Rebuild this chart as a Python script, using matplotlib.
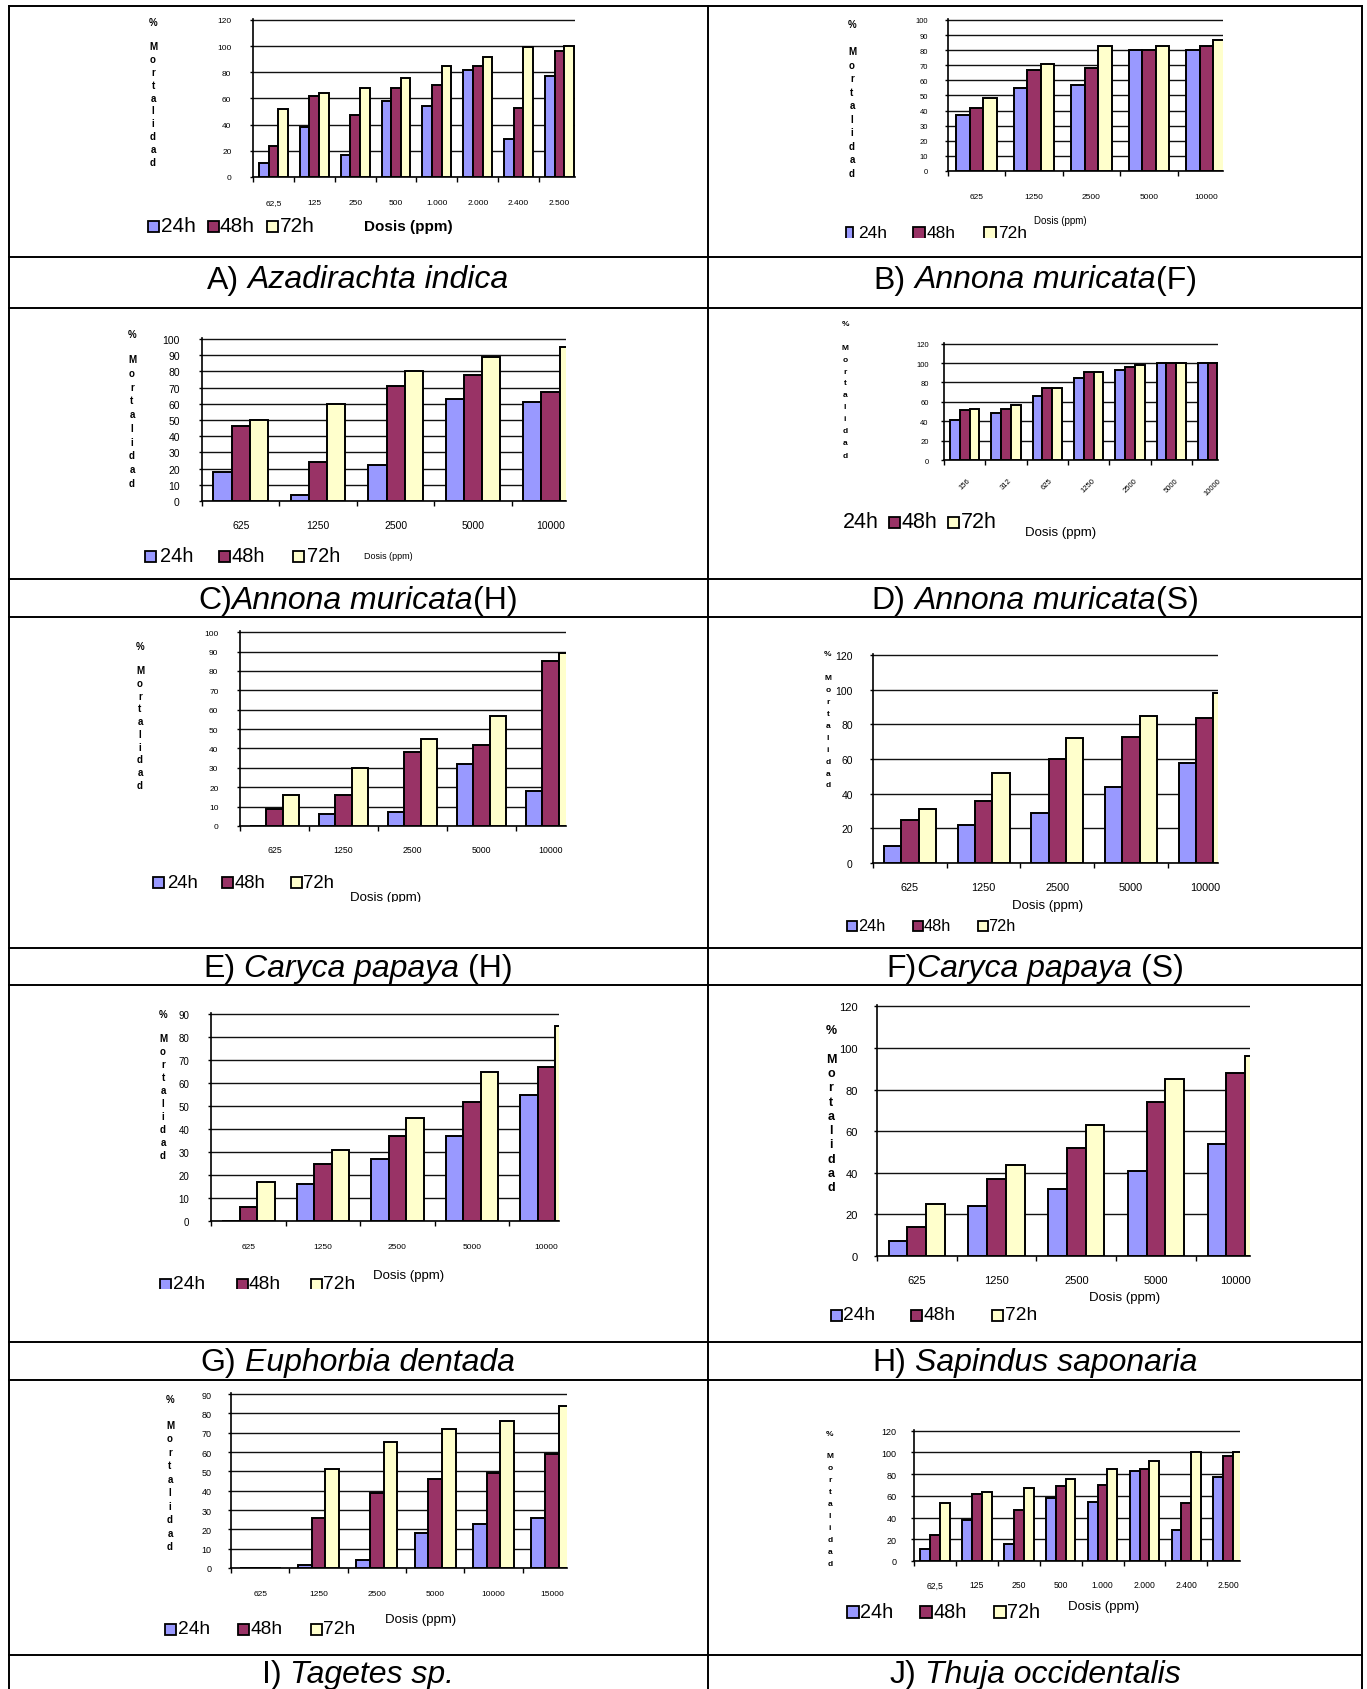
import numpy as np
import matplotlib
matplotlib.use("Agg")
import matplotlib.pyplot as plt
from matplotlib.patches import Rectangle
from matplotlib.lines import Line2D
from matplotlib.transforms import Bbox, TransformedBbox
from matplotlib.offsetbox import TextArea, HPacker, AnnotationBbox, DrawingArea

plt.rcParams['font.family'] = ['Liberation Sans', 'DejaVu Sans']

W, H = 1367, 1690

SERIES = ['24h', '48h', '72h']
COLORS = ['#9999FF', '#993366', '#FFFFCC']

# ---- mortality (%) per dose, for 24 h, 48 h and 72 h exposure ----
a_doses = ['62,5', '125', '250', '500', '1.000', '2.000', '2.400', '2.500']
a_24 = [11, 38, 17, 58, 54, 82, 29, 77]
a_48 = [24, 62, 47, 68, 70, 85, 53, 96]
a_72 = [52, 64, 68, 76, 85, 92, 99, 100]

b_doses = ['625', '1250', '2500', '5000', '10000']
b_24 = [37, 55, 57, 80, 80]
b_48 = [42, 67, 68, 80, 83]
b_72 = [48, 71, 83, 83, 87]

c_doses = ['625', '1250', '2500', '5000', '10000']
c_24 = [18, 4, 22, 63, 61]
c_48 = [46, 24, 71, 78, 67]
c_72 = [50, 60, 80, 89, 95]

d_doses = ['156', '312', '625', '1250', '2500', '5000', '10000']
d_24 = [41, 49, 66, 85, 93, 100, 100]
d_48 = [52, 53, 74, 91, 96, 100, 100]
d_72 = [53, 57, 74, 91, 98, 100, 100]

e_doses = ['625', '1250', '2500', '5000', '10000']
e_24 = [0, 6, 7, 32, 18]
e_48 = [9, 16, 38, 42, 85]
e_72 = [16, 30, 45, 57, 89]

f_doses = ['625', '1250', '2500', '5000', '10000']
f_24 = [10, 22, 29, 44, 58]
f_48 = [25, 36, 60, 73, 84]
f_72 = [31, 52, 72, 85, 98]

g_doses = ['625', '1250', '2500', '5000', '10000']
g_24 = [0, 16, 27, 37, 55]
g_48 = [6, 25, 37, 52, 67]
g_72 = [17, 31, 45, 65, 85]

h_doses = ['625', '1250', '2500', '5000', '10000']
h_24 = [7, 24, 32, 41, 54]
h_48 = [14, 37, 52, 74, 88]
h_72 = [25, 44, 63, 85, 96]

i_doses = ['625', '1250', '2500', '5000', '10000', '15000']
i_24 = [0, 1.5, 4, 18, 23, 26]
i_48 = [0, 26, 39, 46, 49, 59]
i_72 = [0, 51, 65, 72, 76, 84]

j_doses = ['62,5', '125', '250', '500', '1.000', '2.000', '2.400', '2.500']
j_24 = [11, 38, 16, 58, 54, 83, 29, 77]
j_48 = [24, 62, 47, 69, 70, 85, 53, 97]
j_72 = [53, 64, 67, 76, 85, 92, 100, 100]

# caption pieces: (text, italic); None marks a word space
captions = [
    [("A)", False), (" ", None), ("Azadirachta indica", True)],
    [("B)", False), (" ", None), ("Annona muricata", True), ("(F)", False)],
    [("C)", False), ("Annona muricata", True), ("(H)", False)],
    [("D)", False), (" ", None), ("Annona muricata", True), ("(S)", False)],
    [("E)", False), (" ", None), ("Caryca papaya", True), (" ", None), ("(H)", False)],
    [("F)", False), ("Caryca papaya", True), (" ", None), ("(S)", False)],
    [("G)", False), (" ", None), ("Euphorbia dentada", True)],
    [("H)", False), (" ", None), ("Sapindus saponaria", True)],
    [("I)", False), (" ", None), ("Tagetes sp.", True)],
    [("J)", False), (" ", None), ("Thuja occidentalis", True)],
]

# ---- panel geometry (pixels) ----
panels = [
    dict(doses=a_doses, vals=(a_24, a_48, a_72), box=(253, 575, 20, 178), ymax=120, ystep=20,
         xmax=7.38, yfs=6, xfs=6, ypad=13, xpad=16, rot=0,
         pct=(153, 23), mort=(47, 163), mfs=7,
         leg_y=227, leg_fs=15, leg=[(148, 11, 161), (207.7, 11, 220), (267.3, 11, 280)],
         dosis=(408, 227, 11, 'bold'), clip=None, cap=(358, 280.5)),
    dict(doses=b_doses, vals=(b_24, b_48, b_72), box=(948, 1223, 20, 172), ymax=100, ystep=10,
         xmax=4.29, yfs=5.5, xfs=6, ypad=12, xpad=15.5, rot=0,
         pct=(852, 25), mort=(52, 174), mfs=7,
         leg_y=234, leg_fs=12.5, leg=[(846, 7, 858), (912.7, 12, 927), (984, 12, 998)],
         dosis=(1060, 221, 7, 'normal'), clip=239, cap=(1035, 280.5)),
    dict(doses=c_doses, vals=(c_24, c_48, c_72), box=(202, 566, 339, 502), ymax=100, ystep=10,
         xmax=4.2, yfs=7.5, xfs=7.5, ypad=13.5, xpad=14, rot=0,
         pct=(132, 335), mort=(360, 484), mfs=7,
         leg_y=557, leg_fs=14.4, leg=[(145, 11, 160), (219, 11, 232), (293, 11, 307)],
         dosis=(388, 557, 6.5, 'normal'), clip=None, cap=(358, 601)),
    dict(doses=d_doses, vals=(d_24, d_48, d_72), box=(944, 1218, 344, 461), ymax=120, ystep=20,
         xmax=6.13, yfs=5.5, xfs=5.5, ypad=8.5, xpad=12, rot=45,
         pct=(845, 325), mort=(348, 456), mfs=6,
         leg_y=523, leg_fs=15.5, leg=[(843, 0, 843), (889, 11, 902), (948, 11, 961)],
         dosis=(1061, 533, 9.5, 'normal'), clip=None, cap=(1035, 601)),
    dict(doses=e_doses, vals=(e_24, e_48, e_72), box=(240, 566, 632, 827), ymax=100, ystep=10,
         xmax=4.225, yfs=6, xfs=6.3, ypad=13, xpad=14, rot=0,
         pct=(140, 647), mort=(671, 786), mfs=7,
         leg_y=883, leg_fs=13.4, leg=[(153, 11, 167), (222, 11, 235), (291, 11, 303)],
         dosis=(386, 898, 9.5, 'normal'), clip=903, cap=(358, 969.5)),
    dict(doses=f_doses, vals=(f_24, f_48, f_72), box=(873, 1218, 655, 864), ymax=120, ystep=20,
         xmax=4.18, yfs=7.5, xfs=7.8, ypad=12, xpad=14, rot=0,
         pct=(828, 655), mort=(679, 786), mfs=6,
         leg_y=927, leg_fs=11.7, leg=[(847, 10, 858), (913, 10, 924), (978, 10, 988)],
         dosis=(1048, 906, 9.5, 'normal'), clip=934, cap=(1035, 969.5)),
    dict(doses=g_doses, vals=(g_24, g_48, g_72), box=(211, 559, 1014, 1222), ymax=90, ystep=10,
         xmax=4.17, yfs=7, xfs=6, ypad=13, xpad=15.5, rot=0,
         pct=(163, 1015), mort=(1039, 1156), mfs=7,
         leg_y=1285, leg_fs=13.8, leg=[(160, 11, 173), (237, 11, 248), (311, 11, 323)],
         dosis=(409, 1276, 9.5, 'normal'), clip=1290, cap=(358, 1363)),
    dict(doses=h_doses, vals=(h_24, h_48, h_72), box=(877, 1250, 1006, 1257), ymax=120, ystep=20,
         xmax=4.18, yfs=8, xfs=8, ypad=11.5, xpad=14, rot=0,
         pct=(831, 1031), mort=(1060, 1188), mfs=9,
         leg_y=1316, leg_fs=13.8, leg=[(831, 11, 843), (911, 11, 923), (992, 11, 1005)],
         dosis=(1125, 1298, 9.5, 'normal'), clip=1323, cap=(1035, 1363)),
    dict(doses=i_doses, vals=(i_24, i_48, i_72), box=(231, 567, 1394, 1569), ymax=90, ystep=10,
         xmax=5.26, yfs=6.5, xfs=6, ypad=11.5, xpad=15.5, rot=0,
         pct=(170, 1400), mort=(1426, 1547), mfs=7,
         leg_y=1630, leg_fs=13.8, leg=[(165, 11, 178), (238, 11, 250), (311, 11, 323)],
         dosis=(421, 1620, 9.5, 'normal'), clip=1637, cap=(358, 1675)),
    dict(doses=j_doses, vals=(j_24, j_48, j_72), box=(914, 1240, 1431, 1562), ymax=120, ystep=20,
         xmax=7.28, yfs=6.5, xfs=6.2, ypad=10, xpad=14, rot=0,
         pct=(830, 1435), mort=(1457, 1565), mfs=6,
         leg_y=1613, leg_fs=14.3, leg=[(847, 12, 860), (920, 12, 933), (994, 12, 1007)],
         dosis=(1104, 1607, 9.5, 'normal'), clip=1620, cap=(1035, 1675)),
]

fig = plt.figure(figsize=(W / 100, H / 100), dpi=100)
fig.patch.set_facecolor('white')


def fx(x):
    return x / W


def fy(y):
    return 1 - y / H


def clip_below(artist, ycut):
    if ycut is None:
        return
    box = TransformedBbox(Bbox([[0, fy(ycut)], [1, 1]]), fig.transFigure)
    artist.set_clip_box(box)
    artist.set_clip_on(True)


def draw_chart(p):
    x0, x1, yt, yb = p['box']
    ax = fig.add_axes([fx(x0), fy(yb), (x1 - x0) / W, (yb - yt) / H])
    n = len(p['doses'])
    xs = np.arange(n)
    bw = 0.235
    for k, (vals, col) in enumerate(zip(p['vals'], COLORS)):
        ax.bar(xs + (k - 1) * bw, vals, width=bw, color=col,
               edgecolor='black', linewidth=1.4, zorder=3)
    ax.set_yticks(np.arange(0, p['ymax'] + 1, p['ystep']))
    ax.yaxis.grid(True, color='#111111', linewidth=1.0)
    ax.set_axisbelow(True)
    for s in ('top', 'right'):
        ax.spines[s].set_visible(False)
    ax.spines['left'].set_linewidth(1.2)
    ax.spines['bottom'].set_linewidth(1.2)
    # category boundaries carry the tick marks, centres carry the labels
    ax.set_xticks(np.arange(n + 1) - 0.5)
    ax.set_xticklabels([])
    ax.set_xticks(xs, minor=True)
    if p['rot']:
        ax.set_xticklabels(p['doses'], minor=True, fontsize=p['xfs'],
                           rotation=p['rot'], ha='center', va='top')
    else:
        ax.set_xticklabels(p['doses'], minor=True, fontsize=p['xfs'])
    ax.tick_params(axis='x', which='minor', length=0, pad=p['xpad'])
    ax.tick_params(axis='x', which='major', length=3.5, width=1.0, direction='out')
    ax.tick_params(axis='y', length=2.5, width=1.0, pad=p['ypad'], labelsize=p['yfs'])
    # limits last, so the tick setters cannot widen them
    ax.set_xlim(-0.5, p['xmax'])
    ax.set_ylim(0, p['ymax'] * 1.006)
    ax.patch.set_alpha(0)

    # vertical axis title, one letter per line
    px, py = p['pct']
    fig.text(fx(px), fy(py), '%', fontsize=p['mfs'], ha='center', va='center',
             fontweight='bold')
    letters = list('Mortalidad')
    ys = np.linspace(p['mort'][0], p['mort'][1], len(letters))
    for ch, yy in zip(letters, ys):
        fig.text(fx(px), fy(yy), ch, fontsize=p['mfs'], ha='center', va='center',
                 fontweight='bold')

    # legend
    ly = p['leg_y']
    for (sx, sw, tx), lab, col in zip(p['leg'], SERIES, COLORS):
        if sw > 0:
            sh = 12 if sw == 7 else sw
            r = Rectangle((fx(sx), fy(ly + sh / 2)), sw / W, sh / H,
                          transform=fig.transFigure, facecolor=col,
                          edgecolor='black', linewidth=1.3)
            fig.add_artist(r)
            clip_below(r, p['clip'])
        t = fig.text(fx(tx), fy(ly), lab, fontsize=p['leg_fs'], ha='left', va='center')
        clip_below(t, p['clip'])

    dx, dy, dfs, dw = p['dosis']
    t = fig.text(fx(dx), fy(dy), 'Dosis (ppm)', fontsize=dfs, ha='center',
                 va='center', fontweight=dw)
    clip_below(t, p['clip'])


def draw_caption(parts, cx, cy):
    kids = []
    for text, italic in parts:
        if italic is None:
            kids.append(DrawingArea(6.5, 1))
        else:
            kids.append(TextArea(text, textprops=dict(
                fontsize=23, style='italic' if italic else 'normal')))
    pack = HPacker(children=kids, align='baseline', pad=0, sep=0)
    ab = AnnotationBbox(pack, (fx(cx), fy(cy)), xycoords='figure fraction',
                        frameon=False, box_alignment=(0.5, 0.5), pad=0)
    fig.add_artist(ab)


for p, cap in zip(panels, captions):
    draw_chart(p)
    draw_caption(cap, *p['cap'])

# table grid
xl, xm, xr = 8.6, 708, 1361.6
ytop = 6.5
rows = [6.5, 257.7, 309.4, 580, 617.7, 948.7, 986.4, 1343, 1381, 1656]
for yy in rows:
    fig.add_artist(Line2D([fx(xl), fx(xr)], [fy(yy), fy(yy)], color='black',
                          linewidth=1.4, transform=fig.transFigure))
for xx in (xl, xm, xr):
    fig.add_artist(Line2D([fx(xx), fx(xx)], [fy(ytop), 0], color='black',
                          linewidth=1.4, transform=fig.transFigure))

fig.savefig('out.png', dpi=100)
